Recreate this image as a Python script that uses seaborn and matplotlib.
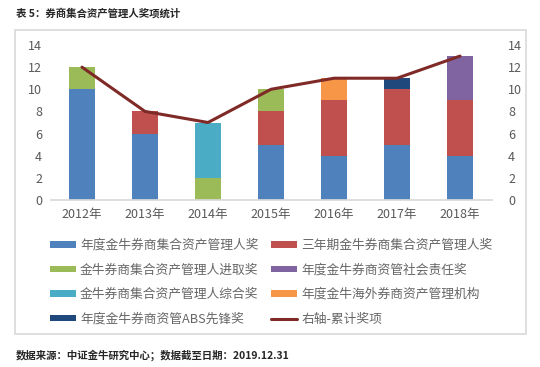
import numpy as np
import matplotlib
matplotlib.use("Agg")
import matplotlib.pyplot as plt
from matplotlib.patches import Patch, Rectangle
from matplotlib.lines import Line2D
import seaborn as sns

# ==========================
# Data
# ==========================
years = ["2012年", "2013年", "2014年", "2015年", "2016年", "2017年", "2018年"]

annual_mgr = [10, 6, 0, 5, 4, 5, 4]          # 年度金牛券商集合资产管理人奖
three_year = [0, 2, 0, 3, 5, 5, 5]           # 三年期金牛券商集合资产管理人奖
progress = [2, 0, 2, 2, 0, 0, 0]             # 金牛券商集合资产管理人进取奖
social = [0, 0, 0, 0, 0, 0, 4]               # 年度金牛券商资管社会责任奖
overall = [0, 0, 5, 0, 0, 0, 0]              # 金牛券商集合资产管理人综合奖
overseas = [0, 0, 0, 0, 2, 0, 0]             # 年度金牛海外券商资产管理机构
abs_pioneer = [0, 0, 0, 0, 0, 1, 0]          # 年度金牛券商资管ABS先锋奖
total_awards = [12, 8, 7, 10, 11, 11, 13]    # 右轴-累计奖项

series_names = ["年度金牛券商集合资产管理人奖", "三年期金牛券商集合资产管理人奖",
                "金牛券商集合资产管理人进取奖", "年度金牛券商资管社会责任奖",
                "金牛券商集合资产管理人综合奖", "年度金牛海外券商资产管理机构",
                "年度金牛券商资管ABS先锋奖"]
series_vals = [annual_mgr, three_year, progress, social, overall, overseas, abs_pioneer]
series_colors = ["#4F81BD", "#C0504D", "#9BBB59", "#8064A2", "#4BACC6", "#F79646", "#1F497D"]
line_name = "右轴-累计奖项"
line_color = "#7F2A27"

# ==========================
# Style
# ==========================
sns.set_theme(style="white")
plt.rcParams['font.family'] = ['Noto Sans CJK SC', 'DejaVu Sans']
text_gray = "#595959"

fig = plt.figure(figsize=(5.4, 3.67), dpi=100)
ax = fig.add_axes([50.5 / 540, 1 - 200 / 367, 441 / 540, 155 / 367])

# stacked bars: draw cumulative totals from the top layer down
cum = np.cumsum(np.array(series_vals), axis=0)
for i in range(len(series_vals) - 1, -1, -1):
    sns.barplot(x=years, y=cum[i], color=series_colors[i], saturation=1,
                width=0.4, linewidth=0, ax=ax)

ax.set_ylim(0, 14)
ax.set_yticks(range(0, 15, 2))
ax.set_xlabel("")
ax.set_ylabel("")
for s in ["left", "top", "right"]:
    ax.spines[s].set_visible(False)
ax.spines["bottom"].set_color("#D9D9D9")
ax.tick_params(axis="both", length=0, labelsize=9, colors=text_gray, pad=6)

# right axis line
ax2 = ax.twinx()
sns.lineplot(x=np.arange(len(years)), y=total_awards, color=line_color,
             linewidth=2.2, ax=ax2)
ax2.set_ylim(0, 14)
ax2.set_yticks(range(0, 15, 2))
ax2.set_ylabel("")
for s in ax2.spines.values():
    s.set_visible(False)
ax2.tick_params(axis="y", length=0, labelsize=9, colors=text_gray, pad=12)
ax.set_xlim(-0.5, len(years) - 0.5)

# legend (row-major look: two columns)
handles = [Patch(color=c, linewidth=0) for c in series_colors]
handles.append(Line2D([0], [0], color=line_color, linewidth=2.2))
labels = series_names + [line_name]
order = [0, 2, 4, 6, 1, 3, 5, 7]
leg = fig.legend([handles[i] for i in order], [labels[i] for i in order],
                 ncol=2, loc="upper left", bbox_to_anchor=(50 / 540, 1 - 239 / 367),
                 frameon=False, fontsize=9.2, handlelength=2.0, handleheight=0.45,
                 handletextpad=0.35, columnspacing=1.0, labelspacing=0.9,
                 borderpad=0, borderaxespad=0)
for t in leg.get_texts():
    t.set_color("#666666")

# outer box, title and source
fig.patches.append(Rectangle((15 / 540, 1 - 334 / 367), 511 / 540, 304 / 367,
                             transform=fig.transFigure, fill=False,
                             edgecolor="#D9D9D9", linewidth=1.2))
fig.text(16 / 540, 1 - 13 / 367, "表 5：券商集合资产管理人奖项统计",
         fontsize=7.5, fontweight="bold", color="#262626", va="center")
fig.text(16 / 540, 1 - 355 / 367, "数据来源：中证金牛研究中心；数据截至日期：2019.12.31",
         fontsize=7.5, fontweight="bold", color="#262626", va="center")

plt.savefig("out.png", dpi=100)
